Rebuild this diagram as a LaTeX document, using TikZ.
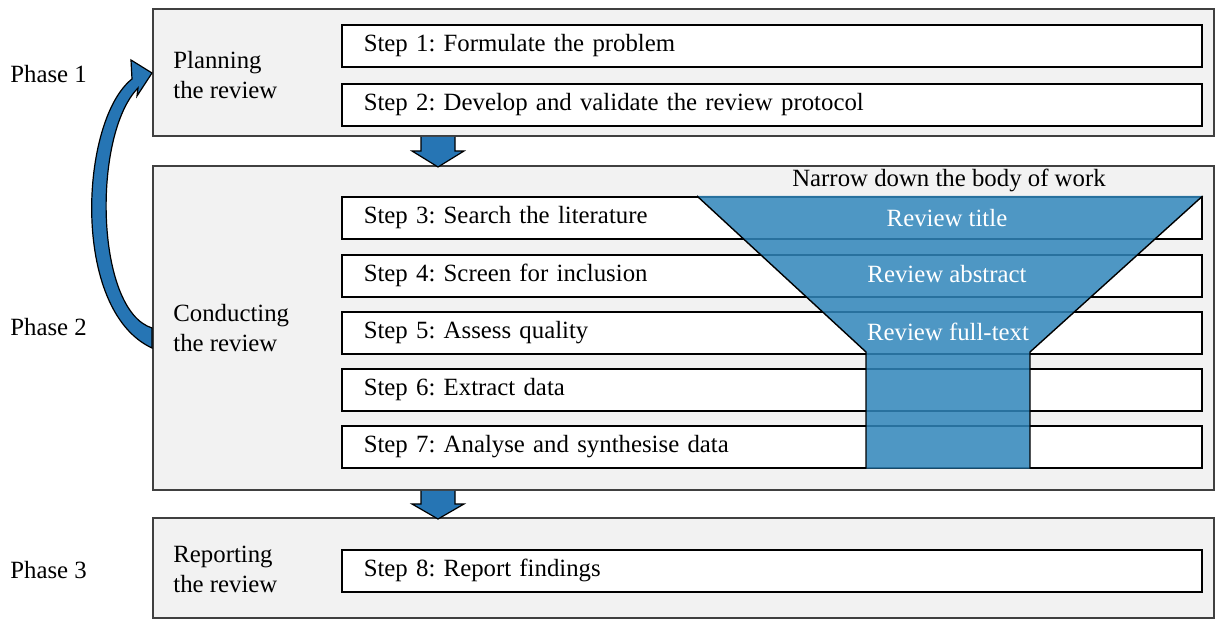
\documentclass[tikz,border=0pt]{standalone}
\usepackage{fontspec}
\setmainfont{Liberation Serif}
\usepackage{tikz}
\usetikzlibrary{calc}

\definecolor{phasegray}{RGB}{242,242,242}
\definecolor{framegray}{RGB}{64,64,64}
\definecolor{arrowblue}{RGB}{38,117,180}
\definecolor{funnelblue}{RGB}{48,133,186}

\begin{document}
\frenchspacing
\begin{tikzpicture}[x=0.5pt,y=-0.5pt,
		font=\fontsize{12.4}{15}\selectfont,
		phasebox/.style={draw=framegray,line width=1pt,fill=phasegray,anchor=north west,
			minimum width=530.5pt,inner sep=0pt},
		stepbox/.style={draw=black,line width=0.8pt,fill=white,anchor=north west,
			minimum width=430pt,minimum height=21pt,inner xsep=11pt,inner ysep=0pt,
			text width=408pt,align=left},
		phaselabel/.style={anchor=west,align=left,inner sep=0pt},
		funneltext/.style={text=white,inner sep=0pt},
		blockarrow/.style={fill=arrowblue,draw=black,line width=0.6pt,line join=miter}]

			\useasboundingbox (0,0) rectangle (1216,619);

			% phases
			\node[phasebox,minimum height=63.5pt] (P1) at (152,8) {};
			\node[phasebox,minimum height=162pt] (P2) at (152,165) {};
			\node[phasebox,minimum height=50pt] (P3) at (152,517) {};

			\node[phaselabel] (L1) at (173,75) {Planning\\the review};
			\node[phaselabel] (L2) at (173,328) {Conducting\\the review};
			\node[phaselabel] (L3) at (173,569) {Reporting\\the review};

			\node[phaselabel] (N1) at (10,74) {Phase 1};
			\node[phaselabel] (N2) at (10,327) {Phase 2};
			\node[phaselabel] (N3) at (10,570) {Phase 3};

			% steps
			\foreach \n/\y/\t in {1/24/{Formulate the problem},
					2/83/{Develop and validate the review protocol},
					3/196/{Search the literature},
					4/254/{Screen for inclusion},
					5/311/{Assess quality},
					6/368/{Extract data},
					7/425/{Analyse and synthesise data},
					8/549/{Report findings}}
			\node[stepbox] (S\n) at (341,\y) {Step \n: \t};

			% funnel
			\fill[funnelblue,opacity=0.85] (S3.north west -| 697,0) -- (S3.north east) -- (1030,352) -- (S7.south west -| 1030,0) -- (S7.south west -| 866,0) -- (866,352) -- cycle;
			\draw[line width=0.7pt] (S3.north west -| 697,0) -- (866,352) -- (S7.south west -| 866,0);
			\draw[line width=0.7pt] (S3.north east) -- (1030,352) -- (S7.south west -| 1030,0);

			\node (narrow) at (949,180) {Narrow down the body of work};
			\node[funneltext] (F1) at (947,218) {Review title};
			\node[funneltext] (F2) at (947,274) {Review abstract};
			\node[funneltext] (F3) at (948,332) {Review full-text};

			% arrows between phases
			\draw[blockarrow] ($(P1.south -| 421,0)$) -- ++(0,14) -- ++(-9,0) -- ++(26,16) -- ++(26,-16) -- ++(-9,0) -- ++(0,-14);
			\draw[blockarrow] ($(P2.south -| 421,0)$) -- ++(0,13) -- ++(-9,0) -- ++(26,15) -- ++(26,-15) -- ++(-9,0) -- ++(0,-13);

			% loop back to planning
			\draw[blockarrow] (P1.west |- 0,73) -- (131,60) -- (132,79)
				.. controls (80,120) and (70,310) .. (P2.west |- 0,348)
				-- (P2.west |- 0,328)
				.. controls (95,310) and (92,135) .. (138,88)
				-- (137,96) -- cycle;
		\end{tikzpicture}
\end{document}
